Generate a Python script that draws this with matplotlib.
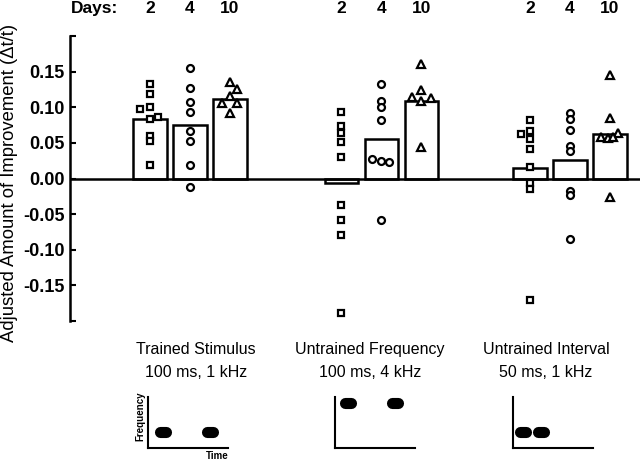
import numpy as np
import matplotlib.pyplot as plt
from matplotlib.transforms import blended_transform_factory

plt.rcParams['font.family'] = ['Liberation Sans', 'DejaVu Sans']

# ---- data ----
days = ['2', '4', '10']
group_names = ['Trained Stimulus\n100 ms, 1 kHz',
               'Untrained Frequency\n100 ms, 4 kHz',
               'Untrained Interval\n50 ms, 1 kHz']

bar_trained = [0.083, 0.075, 0.112]
bar_freq = [-0.007, 0.055, 0.109]
bar_interval = [0.015, 0.026, 0.062]

# individual subjects (day 2 = squares, day 4 = circles, day 10 = triangles)
trained_d2 = [0.133, 0.119, 0.100, 0.098, 0.087, 0.084, 0.060, 0.053, 0.019]
trained_d4 = [0.155, 0.127, 0.108, 0.094, 0.066, 0.053, 0.019, -0.012]
trained_d10 = [0.136, 0.125, 0.116, 0.106, 0.106, 0.092]

freq_d2 = [0.093, 0.073, 0.064, 0.051, 0.030, -0.037, -0.058, -0.079, -0.189]
freq_d4 = [0.132, 0.109, 0.100, 0.082, 0.028, 0.025, 0.023, -0.058]
freq_d10 = [0.161, 0.124, 0.114, 0.113, 0.109, 0.044]

interval_d2 = [0.082, 0.067, 0.062, 0.056, 0.041, 0.016, -0.007, -0.015, -0.170]
interval_d4 = [0.092, 0.084, 0.068, 0.046, 0.039, -0.017, -0.023, -0.085]
interval_d10 = [0.145, 0.085, 0.064, 0.058, 0.057, 0.058, -0.026]

# horizontal jitter of the symbols (in bar spacings)
jit_trained = [[0, 0, 0, -0.25, 0.2, 0, 0, 0, 0], [0] * 8, [0, 0.18, 0, -0.2, 0.18, 0]]
jit_freq = [[0] * 9, [0, 0, 0, 0, -0.22, 0, 0.2, 0], [0, 0, -0.22, 0.25, 0, 0]]
jit_interval = [[0, 0, -0.22, 0, 0, 0, 0, 0, 0], [0] * 8, [0, 0, 0.2, -0.22, -0.05, 0.08, 0]]

groups = [
    (bar_trained, [trained_d2, trained_d4, trained_d10], jit_trained),
    (bar_freq, [freq_d2, freq_d4, freq_d10], jit_freq),
    (bar_interval, [interval_d2, interval_d4, interval_d10], jit_interval),
]
group_start = [0, 4.78, 9.5]
markers = ['s', 'o', '^']
msizes = [4.6, 5.0, 6.0]

W, H = 640, 462
fig = plt.figure(figsize=(W / 100, H / 100), dpi=100)
ax = fig.add_axes([70 / W, 1 - 321 / H, 570 / W, 285 / H])

trans = blended_transform_factory(ax.transData, ax.transAxes)
for g, (means, pts, jit) in enumerate(groups):
    xs = group_start[g] + np.arange(3)
    ax.bar(xs, means, width=0.83, color='white', edgecolor='black', linewidth=1.8, zorder=2)
    for d in range(3):
        ax.plot(xs[d] + np.array(jit[d]), pts[d], linestyle='none', marker=markers[d],
                ms=msizes[d], mfc='white', mec='black', mew=1.6, zorder=4)
        ax.text(xs[d], 1.095, days[d], transform=trans, ha='center', va='center',
                fontsize=12.5, fontweight='bold')

ax.text(-1.97, 1.095, 'Days:', transform=trans, ha='left', va='center',
        fontsize=12.5, fontweight='bold')

ax.axhline(0, color='black', linewidth=1.8, zorder=3)
ax.set_xlim(-2.0, 12.25)
ax.set_ylim(-0.2, 0.2)
yt = [-0.2, -0.15, -0.1, -0.05, 0, 0.05, 0.1, 0.15, 0.2]
ax.set_yticks(yt)
ax.set_yticklabels(['' if abs(v) > 0.19 else f'{v:.2f}' for v in yt], fontsize=13, fontweight='bold')
ax.tick_params(axis='y', direction='in', length=4, width=1.5, pad=4)
ax.set_xticks([])
for s in ['top', 'right', 'bottom']:
    ax.spines[s].set_visible(False)
ax.spines['left'].set_linewidth(1.8)

fig.text(10 / W, 1 - 183 / H, 'Adjusted Amount of Improvement (\u0394t/t)', rotation=90,
         ha='center', va='center', fontsize=13.3)

label_x = [196, 370, 546]
for g in range(3):
    fig.text(label_x[g] / W, 1 - 361 / H, group_names[g], ha='center', va='center',
             fontsize=11.5, linespacing=1.6)

# stimulus icons
icon_left = [148, 335, 513]
blob_x = [[15, 62], [13, 60], [10, 28]]
blob_y = [16, 45, 16]
for g in range(3):
    iax = fig.add_axes([icon_left[g] / W, 1 - 448 / H, 80 / W, 51 / H])
    iax.set_xlim(0, 80)
    iax.set_ylim(0, 51)
    for bx in blob_x[g]:
        iax.plot([bx - 3, bx + 3], [blob_y[g], blob_y[g]], color='black', lw=8,
                 solid_capstyle='round')
    iax.set_xticks([])
    iax.set_yticks([])
    for s in ['top', 'right']:
        iax.spines[s].set_visible(False)
    for s in ['left', 'bottom']:
        iax.spines[s].set_linewidth(1.5)

fig.text(140 / W, 1 - 416 / H, 'Frequency', rotation=90, ha='center', va='center',
         fontsize=7, fontweight='bold')
fig.text(217 / W, 1 - 456 / H, 'Time', ha='center', va='center', fontsize=7, fontweight='bold')

fig.savefig('out.png', dpi=100)
